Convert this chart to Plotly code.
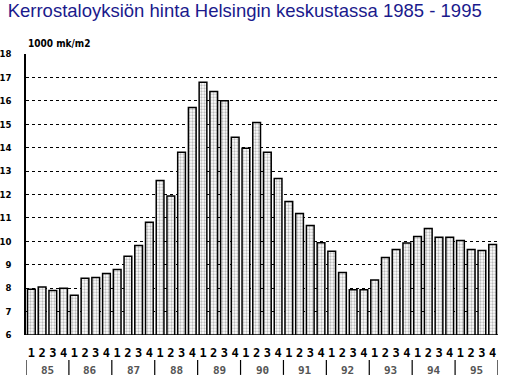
import plotly.graph_objects as go

years = ["85", "86", "87", "88", "89", "90", "91", "92", "93", "94", "95"]
quarters = ["1", "2", "3", "4"]
prices = [
    7.95, 8.05, 7.9, 8.0,
    7.7, 8.42, 8.46, 8.63,
    8.8, 9.36, 9.82, 10.81,
    12.6, 11.94, 13.8, 15.72,
    16.79, 16.4, 16.0, 14.44,
    13.98, 15.08, 13.8, 12.68,
    11.7, 11.19, 10.68, 9.94,
    9.58, 8.67, 7.93, 7.93,
    8.35, 9.31, 9.65, 9.93,
    10.21, 10.55, 10.17, 10.17,
    10.04, 9.65, 9.61, 9.87,
]
y_ticks = list(range(6, 19))

x = list(range(len(prices)))
qlabels = [quarters[i % 4] for i in x]

fig = go.Figure()
fig.add_trace(go.Bar(
    x=x, y=prices, width=0.72,
    marker=dict(
        color="white",
        line=dict(color="black", width=1.5),
        pattern=dict(shape=".", fgcolor="#777777", bgcolor="white", size=3, solidity=0.45),
    ),
    hoverinfo="skip",
))

# year labels and separators
for k, yr in enumerate(years):
    fig.add_annotation(x=k * 4 + 1.5, y=0, xref="x", yref="paper", yshift=-35,
                       yanchor="middle", text=yr, showarrow=False,
                       font=dict(family="DejaVu Sans Mono", size=11, color="#555555", weight="bold"))
for k in range(len(years) + 1):
    xs = k * 4 - 0.5
    fig.add_shape(type="line", xref="x", yref="paper", x0=xs, x1=xs, y0=-0.089, y1=-0.142,
                  line=dict(color="black", width=1.2))

fig.add_annotation(x=0, y=1, xref="paper", yref="paper", xanchor="left", yanchor="bottom",
                   yshift=3, xshift=0, text="1000 mk/m2", showarrow=False,
                   font=dict(family="DejaVu Sans Condensed", size=10, color="black", weight="bold"))

fig.update_layout(
    width=511, height=377, autosize=False,
    margin=dict(l=26, r=13, t=54, b=42),
    paper_bgcolor="white", plot_bgcolor="white",
    showlegend=False,
    title=dict(text="Kerrostaloyksiön hinta Helsingin keskustassa 1985 - 1995",
               x=0.015, xanchor="left", y=0.99, yanchor="top",
               font=dict(family="Liberation Sans", size=18.5, color="#1a1a8c")),
    xaxis=dict(range=[-0.5, 43.5], tickvals=x, ticktext=qlabels, showgrid=False,
               zeroline=False, showline=False, ticks="", automargin=False,
               ticklabelstandoff=9,
               tickfont=dict(family="DejaVu Sans Mono", size=12, color="black", weight="bold"),
               fixedrange=True),
    yaxis=dict(range=[6, 18], tickvals=y_ticks, showgrid=True, gridcolor="black",
               griddash="3px,3px", gridwidth=1, zeroline=False, automargin=False,
               showline=True, linecolor="black", linewidth=1.5, ticks="",
               ticklabelstandoff=11,
               tickfont=dict(family="DejaVu Sans Condensed", size=9.5, color="black", weight="bold"),
               fixedrange=True),
)
# solid baseline
fig.add_shape(type="line", xref="paper", yref="y", x0=0, x1=1, y0=6, y1=6,
              line=dict(color="black", width=1.5))

fig.write_html("out.html")
